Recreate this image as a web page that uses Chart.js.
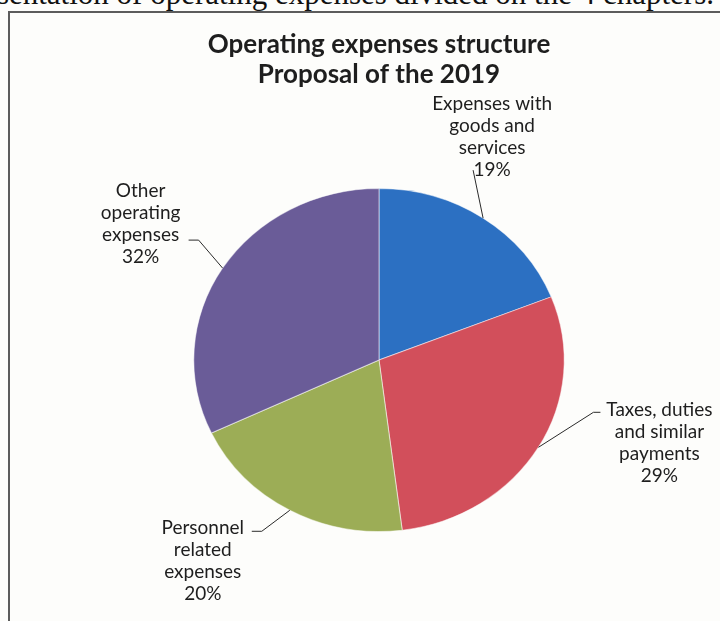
<!DOCTYPE html>
<html>
<head>
<meta charset="utf-8">
<script src="https://cdn.jsdelivr.net/npm/chart.js@4.4.1/dist/chart.umd.min.js"></script>
<style>
  html, body { margin: 0; padding: 0; background: #fdfdfb; overflow: hidden; }
  body { width: 720px; height: 621px; position: relative; }
  #legenda { position: absolute; right: 6px; top: -22px; line-height: 31px; font-family: "Liberation Serif", serif; font-size: 31px; color: #111; white-space: nowrap; }
  #moldura { position: absolute; left: 8px; top: 11px; width: 760px; height: 700px; border: 2px solid #5c5c5c; }
  #grafico { position: absolute; left: 0; top: 0; }
</style>
</head>
<body>
<div id="legenda">Presentation of operating expenses divided on the 4 chapters.</div>
<div id="moldura"></div>
<canvas id="grafico" width="720" height="621"></canvas>
<script>
// Dados
const categorias = [
    ['Expenses with', 'goods and', 'services'],
    ['Taxes, duties', 'and similar', 'payments'],
    ['Personnel', 'related', 'expenses'],
    ['Other', 'operating', 'expenses']
];
const valores = [19, 29, 20, 32];
const cores = ['#2c70c2', '#d24f5b', '#9cad56', '#6a5c98'];

// Posição dos rótulos em relação à borda da fatia (dx, dy)
const posRotulos = [
    { cotovelo: [-10, -48], fim: [-10, -48], texto: [9, -114] },
    { cotovelo: [55, -35], fim: [62, -35], texto: [121, -37] },
    { cotovelo: [-28, 21], fim: [-38, 21], texto: [-87, 18] },
    { cotovelo: [-24, -28], fim: [-34, -28], texto: [-82, -77] }
];
const escalaX = 1.08; // a pizza do original é levemente oval

// Achata a pizza horizontalmente
const elipse = {
    id: 'elipse',
    beforeDatasetsDraw(chart) {
        const arc = chart.getDatasetMeta(0).data[0];
        const ctx = chart.ctx;
        ctx.save();
        ctx.translate(arc.x, arc.y);
        ctx.scale(escalaX, 1);
        ctx.translate(-arc.x, -arc.y);
    },
    afterDatasetsDraw(chart) {
        chart.ctx.restore();
    }
};

// Rótulos externos com linhas de chamada
const rotulos = {
    id: 'rotulos',
    afterDraw(chart) {
        const ctx = chart.ctx;
        const total = valores.reduce((a, b) => a + b, 0);
        chart.getDatasetMeta(0).data.forEach((arc, i) => {
            const p = arc.getProps(['x', 'y', 'startAngle', 'endAngle', 'outerRadius'], true);
            const meio = (p.startAngle + p.endAngle) / 2;
            const ex = p.x + Math.cos(meio) * p.outerRadius * escalaX;
            const ey = p.y + Math.sin(meio) * p.outerRadius;
            const pos = posRotulos[i];

            ctx.save();
            ctx.strokeStyle = '#2a2a2a';
            ctx.lineWidth = 1;
            ctx.beginPath();
            ctx.moveTo(ex, ey);
            ctx.lineTo(ex + pos.cotovelo[0], ey + pos.cotovelo[1]);
            ctx.lineTo(ex + pos.fim[0], ey + pos.fim[1]);
            ctx.stroke();

            const linhas = categorias[i].concat([Math.round(valores[i] / total * 100) + '%']);
            ctx.fillStyle = '#1e1e1e';
            ctx.font = '19px Lato';
            ctx.textAlign = 'center';
            ctx.textBaseline = 'middle';
            linhas.forEach((t, k) => {
                ctx.fillText(t, ex + pos.texto[0], ey + pos.texto[1] + k * 22);
            });
            ctx.restore();
        });
    }
};

const ctx = document.getElementById('grafico').getContext('2d');
const grafico = new Chart(ctx, {
    type: 'pie',
    data: {
        labels: categorias.map(c => c.join(' ')),
        datasets: [{
            data: valores,
            backgroundColor: cores,
            borderColor: 'rgba(255,255,255,0.5)',
            borderWidth: 1
        }]
    },
    options: {
        responsive: false,
        animation: false,
        layout: { padding: { left: 42, right: 4, top: 0, bottom: 89 } },
        plugins: {
            legend: { display: false },
            tooltip: { enabled: false },
            title: {
                display: true,
                text: ['Operating expenses structure', 'Proposal of the 2019'],
                color: '#1e1e1e',
                font: { family: 'Lato', size: 26, weight: 'bold', lineHeight: 30 / 26 },
                padding: { top: 30, bottom: 98 }
            }
        }
    },
    plugins: [elipse, rotulos]
});
</script>
</body>
</html>
